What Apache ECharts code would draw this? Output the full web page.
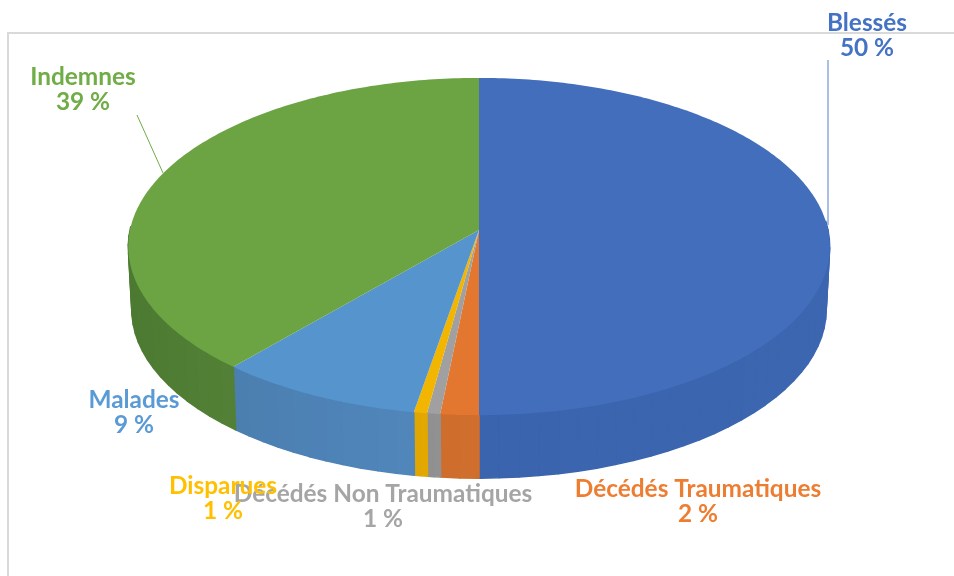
<!DOCTYPE html>
<html>
<head>
<meta charset="utf-8">
<style>html,body{margin:0;padding:0;background:#fff}#chart{width:954px;height:576px}</style>
<script src="https://cdn.jsdelivr.net/npm/echarts@6/dist/echarts.min.js"></script>
</head>
<body>
<div id="chart"></div>
<script>
// values, in drawing order (clockwise from the top)
const categories = ['Blessés', 'Décédés Traumatiques', 'Décédés Non Traumatiques', 'Disparues', 'Malades', 'Indemnes'];
const values = [50, 1.6, 0.55, 0.55, 8.6, 38.7];

const topColors = ['#426EBC', '#E3772F', '#A0A0A0', '#F2B500', '#5694CD', '#6CA444'];
const sideLeft = ['#3A64AD', '#CF6D2C', '#8F8F8F', '#E0A700', '#4B7FB0', '#4D7A32'];
const sideRight = ['#3C66B0', '#D1702D', '#929292', '#E3A900', '#5186BC', '#5F9140'];
const labelColors = ['#4472C4', '#ED7D31', '#A5A5A5', '#FFC000', '#5B9BD5', '#70AD47'];
const labelX = [867, 698, 383, 223, 134, 83];
const labelY = [36, 502, 507, 499, 413, 90];

// tilted disc: centre, radii, perspective strength and thickness
const cx = 479, cy = 230, rx = 349, ry = 167, persp = 0.098, depth = 63, lowerScale = 0.99;

const total = values.reduce((a, b) => a + b, 0);
const starts = values.map((v, i) => values.slice(0, i).reduce((a, b) => a + b, 0) / total);

function rim(frac, lower) {
    const t = frac * Math.PI * 2,
        u = Math.sin(t),
        v = -Math.cos(t),
        s = 1 / (1 - persp * v);
    const x = rx * u * s, y = ry * v * s;
    return lower ? [cx + x * lowerScale, cy + y + depth] : [cx + x, cy + y];
}

function arc(from, to) {
    const steps = Math.max(2, Math.ceil((to - from) * 400)), pts = [];
    for (let i = 0; i <= steps; i++) {
        pts.push(rim(from + (to - from) * i / steps, false));
    }
    return pts;
}

// the wall is cut in strips so it also fills the silhouette between both rims
function wall(i, from, to) {
    const steps = Math.max(2, Math.ceil((to - from) * 120)), strips = [];
    const xs = arc(from, to).map(p => p[0]),
        minX = Math.min(...xs),
        maxX = Math.max(...xs);
    for (let k = 0; k < steps; k++) {
        const a = from + (to - from) * k / steps,
            b = from + (to - from) * (k + 1) / steps,
            pa = rim(a, false),
            pb = rim(b, false);
        // the back half of the wall is hidden behind the top face
        if (pa[1] < cy && pb[1] < cy) {
            continue;
        }
        const color = echarts.color.lerp(((pa[0] + pb[0]) / 2 - minX) / (maxX - minX), [sideLeft[i], sideRight[i]]);
        strips.push({
            type: 'polygon',
            z2: 1,
            shape: {points: [pa, pb, rim(b, true), rim(a, true)]},
            style: {fill: color, stroke: color, lineWidth: 1.5, lineJoin: 'round'}
        });
    }
    return strips;
}

function renderItem(params, api) {
    const i = params.dataIndex,
        from = starts[i],
        to = from + api.value(0) / total;
    const children = wall(i, from, to).concat([{
        type: 'polygon',
        z2: 2,
        shape: {points: [[cx, cy]].concat(arc(from, to))},
        style: {fill: topColors[i]}
    }, {
        type: 'text',
        z2: 10 + i,
        style: {
            text: categories[i] + '\n' + Math.round(api.value(0)) + ' %',
            x: labelX[i],
            y: labelY[i],
            align: 'center',
            verticalAlign: 'middle',
            fill: labelColors[i],
            font: 'bold 24.4px Lato',
            lineHeight: 25
        }
    }]);
    return {type: 'group', children: children};
}

const chart = echarts.init(document.getElementById('chart'), null, {renderer: 'canvas'});
chart.setOption({
    backgroundColor: '#fff',
    animation: false,
    graphic: [{
        type: 'rect',
        z: -1,
        shape: {x: 8, y: 33, width: 1000, height: 600},
        style: {fill: 'none', stroke: '#D9D9D9', lineWidth: 2}
    }, {
        type: 'line',
        z: 5,
        shape: {x1: 828, y1: 60, x2: 828, y2: 225},
        style: {stroke: '#8FAADC', lineWidth: 1.5}
    }, {
        type: 'line',
        z: 5,
        shape: {x1: 137, y1: 115, x2: 163, y2: 173},
        style: {stroke: '#70AD47', lineWidth: 1}
    }],
    series: [{
        type: 'custom',
        coordinateSystem: 'none',
        renderItem: renderItem,
        data: values,
        silent: true
    }]
});
</script>
</body>
</html>
